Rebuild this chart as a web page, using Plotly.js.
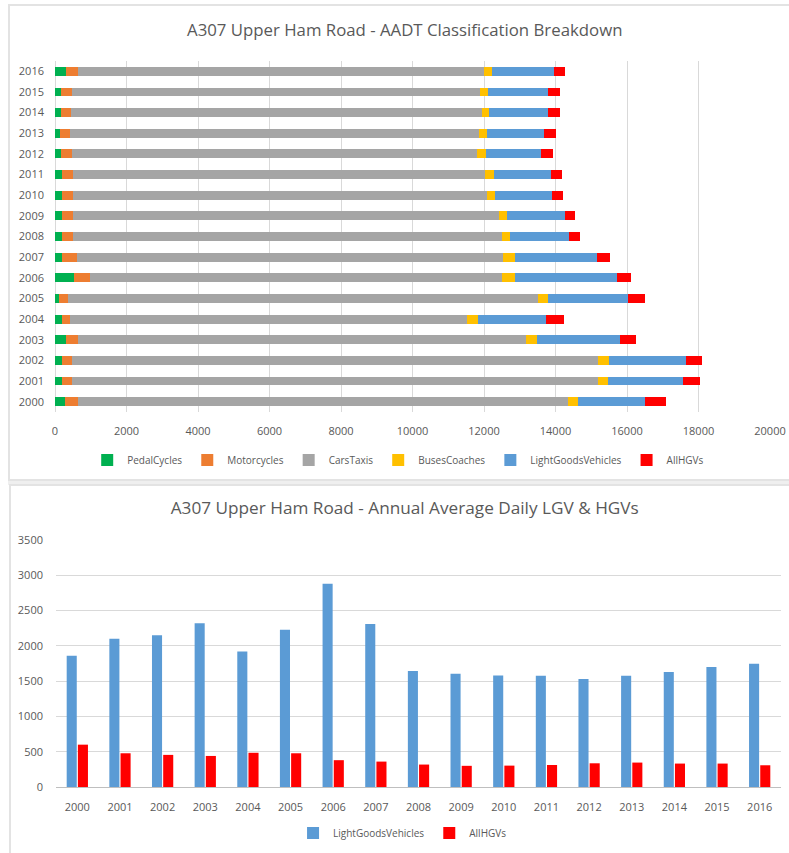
<!DOCTYPE html>
<html>
<head>
<meta charset="utf-8">
<script src="https://cdn.plot.ly/plotly-3.0.1.min.js"></script>
<style>
  html, body { margin: 0; padding: 0; background: #ffffff; overflow: hidden; }
  #page { position: relative; width: 789px; height: 853px; overflow: hidden; }
  .frame { position: absolute; box-sizing: border-box; border: 2px solid #e3e3e3; border-right: none; }
  #frameTop { left: 8px; top: 4px; width: 800px; height: 477px; }
  #band { position: absolute; left: 8px; top: 481px; width: 800px; height: 4px; background: #efefef; }
  #frameBot { left: 9px; top: 484px; width: 800px; height: 400px; border-bottom: none; }
  #topChart { position: absolute; left: 0; top: 0; width: 789px; height: 481px; }
  #botChart { position: absolute; left: 0; top: 483px; width: 789px; height: 370px; }
</style>
</head>
<body>
<div id="page">
  <div class="frame" id="frameTop"></div>
  <div id="band"></div>
  <div class="frame" id="frameBot"></div>
  <div id="topChart"></div>
  <div id="botChart"></div>
</div>
<script>
// Annual average daily traffic by vehicle class, A307 Upper Ham Road
const years = ['2000','2001','2002','2003','2004','2005','2006','2007','2008',
               '2009','2010','2011','2012','2013','2014','2015','2016'];
const pedalCycles = [280, 205, 205, 316, 205, 120, 532, 205, 205, 205, 205, 205, 177, 132, 160, 177, 308];
const motorcycles = [372, 263, 263, 328, 216, 244, 448, 403, 308, 308, 290, 290, 300, 297, 297, 300, 345];
const carsTaxis   = [13700, 14710, 14710, 12540, 11090, 13160, 11530, 11920, 12000, 11900, 11580, 11540, 11340, 11440, 11480, 11420, 11360];
const busesCoaches = [291, 288, 328, 308, 308, 260, 344, 336, 213, 235, 244, 252, 241, 224, 216, 204, 204];
const lightGoodsVehicles = [1860, 2100, 2150, 2320, 1920, 2230, 2880, 2310, 1645, 1605, 1580, 1575, 1530, 1575, 1630, 1700, 1745];
const allHGVs = [600, 478, 455, 440, 485, 478, 380, 360, 318, 300, 303, 312, 336, 346, 332, 332, 308];

const seriesNames = ['PedalCycles','Motorcycles','CarsTaxis','BusesCoaches','LightGoodsVehicles','AllHGVs'];
const seriesColors = ['#00b050','#ed7d31','#a5a5a5','#ffc000','#5b9bd5','#ff0000'];
const seriesValues = [pedalCycles, motorcycles, carsTaxis, busesCoaches, lightGoodsVehicles, allHGVs];

const FONT = '"Open Sans", "Liberation Sans", sans-serif';
const TEXT = '#595959';
const GRID = '#d9d9d9';

// Stacked horizontal breakdown
const topTraces = seriesNames.map((name, i) => ({
  type: 'bar',
  orientation: 'h',
  name: name,
  y: years,
  x: seriesValues[i],
  marker: { color: seriesColors[i], line: { width: 0 } },
  hoverinfo: 'x+name'
}));

const topLayout = {
  width: 789, height: 481,
  margin: { l: 55, r: 19, t: 61, b: 69 },
  paper_bgcolor: 'rgba(0,0,0,0)',
  plot_bgcolor: 'rgba(0,0,0,0)',
  barmode: 'stack',
  bargap: 0.57,
  font: { family: FONT, color: TEXT, size: 11 },
  title: {
    text: 'A307 Upper Ham Road - AADT Classification Breakdown',
    font: { family: FONT, size: 16.8, color: TEXT },
    x: 0.513, xanchor: 'center', y: 1 - 30 / 481, yanchor: 'middle', yref: 'container'
  },
  xaxis: {
    range: [0, 20000], dtick: 2000, tickformat: 'd',
    showgrid: true, gridcolor: GRID, gridwidth: 1,
    zeroline: true, zerolinecolor: GRID, zerolinewidth: 1,
    showline: false, ticks: '', ticklabelstandoff: 11,
    tickfont: { family: FONT, size: 11, color: TEXT },
    fixedrange: true
  },
  yaxis: {
    type: 'category', showgrid: false, zeroline: false, showline: false,
    ticks: '', ticklabelstandoff: 10,
    tickfont: { family: FONT, size: 11, color: TEXT },
    fixedrange: true
  },
  legend: {
    orientation: 'h', x: 0.48, xanchor: 'center',
    yref: 'container', y: (481 - 460) / 481, yanchor: 'middle',
    traceorder: 'normal', itemwidth: 30,
    font: { family: FONT, size: 10, color: TEXT },
    bgcolor: 'rgba(0,0,0,0)'
  },
  showlegend: true
};

// LGV & HGV yearly comparison
const botTraces = [
  { type: 'bar', name: 'LightGoodsVehicles', x: years, y: lightGoodsVehicles,
    marker: { color: '#5b9bd5' }, hoverinfo: 'y+name' },
  { type: 'bar', name: 'AllHGVs', x: years, y: allHGVs,
    marker: { color: '#ff0000' }, hoverinfo: 'y+name' }
];

const botLayout = {
  width: 789, height: 370,
  margin: { l: 56, r: 8, t: 57, b: 66 },
  paper_bgcolor: 'rgba(0,0,0,0)',
  plot_bgcolor: 'rgba(0,0,0,0)',
  barmode: 'group',
  bargap: 0.475,
  bargroupgap: 0.1,
  font: { family: FONT, color: TEXT, size: 11 },
  title: {
    text: 'A307 Upper Ham Road - Annual Average Daily LGV &amp; HGVs',
    font: { family: FONT, size: 17.2, color: TEXT },
    x: 0.513, xanchor: 'center', y: 1 - 25 / 370, yanchor: 'middle', yref: 'container'
  },
  xaxis: {
    type: 'category', showgrid: false, zeroline: false,
    showline: true, linecolor: '#bfbfbf', linewidth: 1,
    ticks: '', ticklabelstandoff: 10,
    tickfont: { family: FONT, size: 11, color: TEXT },
    fixedrange: true
  },
  yaxis: {
    range: [0, 3500], dtick: 500,
    showgrid: true, gridcolor: GRID, gridwidth: 1,
    zeroline: false, showline: false, ticks: '', ticklabelstandoff: 12,
    tickfont: { family: FONT, size: 11, color: TEXT },
    fixedrange: true
  },
  legend: {
    orientation: 'h', x: 0.478, xanchor: 'center',
    yref: 'container', y: (370 - 350) / 370, yanchor: 'middle',
    traceorder: 'normal', itemwidth: 30,
    font: { family: FONT, size: 10, color: TEXT },
    bgcolor: 'rgba(0,0,0,0)'
  },
  showlegend: true
};

const cfg = { displayModeBar: false, staticPlot: true };
Plotly.newPlot('topChart', topTraces, topLayout, cfg);
Plotly.newPlot('botChart', botTraces, botLayout, cfg);
</script>
</body>
</html>
